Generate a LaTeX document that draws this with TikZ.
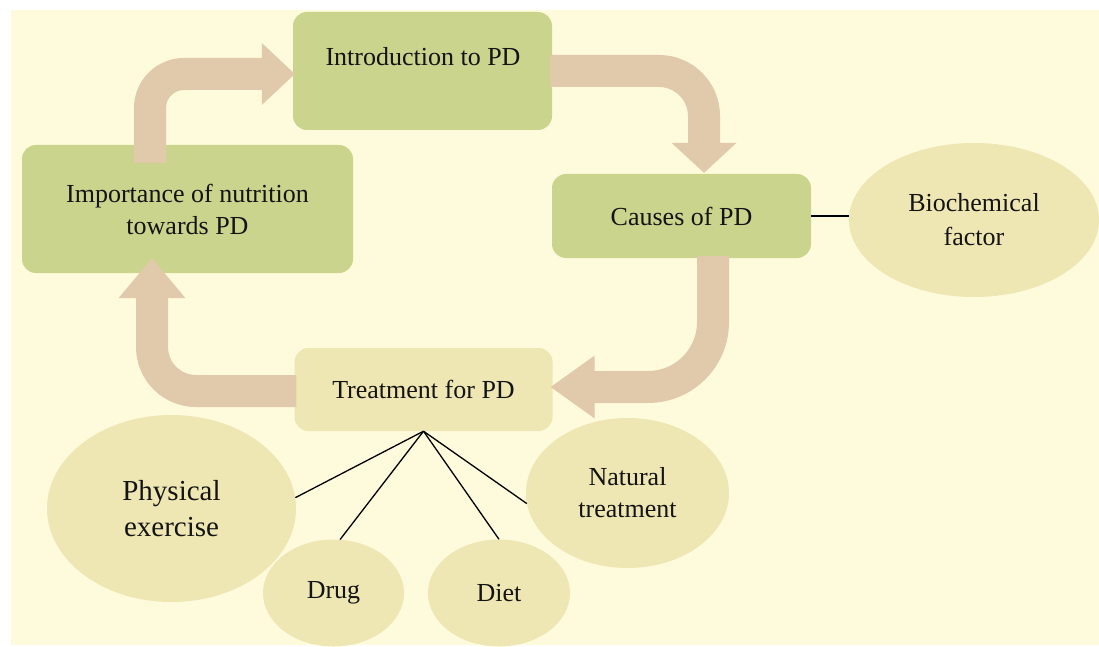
\documentclass[tikz,border=0pt]{standalone}
\usepackage{fontspec}
\setmainfont{Liberation Serif}
\usetikzlibrary{calc,shapes.geometric}
\definecolor{bgc}{HTML}{FEFADC}
\definecolor{boxg}{HTML}{CBD48D}
\definecolor{boxl}{HTML}{EFE7B3}
\definecolor{arrc}{HTML}{E1C9AB}
\definecolor{txtc}{HTML}{141414}
\begin{document}
\begin{tikzpicture}[x=1pt,y=-1pt,
  every node/.style={text=txtc},
  greenbox/.style={rectangle, rounded corners=14pt, fill=boxg, inner sep=0pt, align=center, font=\fontsize{26}{32}\selectfont},
  lightbox/.style={rectangle, rounded corners=14pt, fill=boxl, inner sep=0pt, align=center, font=\fontsize{26}{32}\selectfont},
  ell/.style={ellipse, fill=boxl, inner sep=0pt, align=center, font=\fontsize{26}{32}\selectfont},
  band/.style={draw=arrc, line width=32pt},
  thin/.style={draw=black, line width=1.3pt}]
\useasboundingbox (0,0) rectangle (1099,647);
\fill[bgc] (11,10) rectangle (1099,645);

% boxes
\node[greenbox, minimum width=259pt, minimum height=118pt] (intro) at (422.5,71) {};
\node[font=\fontsize{26}{32}\selectfont] (introtxt) at (423,57) {Introduction to PD};
\node[greenbox, minimum width=331pt, minimum height=128pt] (imp) at (187.5,209) {Importance of nutrition\\towards PD};
\node[greenbox, minimum width=259pt, minimum height=84pt] (cause) at (681.5,216) {Causes of PD};
\node[lightbox, minimum width=258pt, minimum height=83pt] (treat) at (423.5,389.5) {Treatment for PD};

% ellipses
\node[ell, minimum width=250pt, minimum height=154pt, font=\fontsize{26}{34}\selectfont] (bio) at (974,220) {Biochemical\\factor};
\node[ell, minimum width=249pt, minimum height=187pt, font=\fontsize{29}{36}\selectfont] (phys) at (171.5,508.5) {Physical\\exercise};
\node[ell, minimum width=141pt, minimum height=107pt] (drug) at (333.5,593) {Drug};
\node[ell, minimum width=142pt, minimum height=107pt] (diet) at (499,593) {Diet};
\node[ell, minimum width=203pt, minimum height=150pt] (nat) at (627.5,493) {Natural\\treatment};

% thin connectors
\draw[thin] (cause.east) -- (cause.east -| bio.west);
\draw[thin] (treat.south) -- (phys.5);
\draw[thin] (treat.south) -- (drug.83);
\draw[thin] (treat.south) -- (diet.north);
\draw[thin] (treat.south) -- (nat.186);

% block arrows
\coordinate (h1) at ($(intro.west)+(2,3)$);
\draw[band, rounded corners=34pt] ($(imp.north)+(-37.5,18)$) |- ($(h1)+(-32,0)$);
\fill[arrc] ($(h1)+(-33,-31)$) -- (h1) -- ($(h1)+(-33,31)$) -- cycle;

\coordinate (h2) at ($(cause.north)+(22.5,-1)$);
\draw[band, rounded corners=45pt] ($(intro.east)+(-2,0)$) -| ($(h2)+(0,-29)$);
\fill[arrc] ($(h2)+(-32.5,-30)$) -- (h2) -- ($(h2)+(32.5,-30)$) -- cycle;

\coordinate (h3) at ($(treat.east)+(-2,-2.5)$);
\draw[band, rounded corners=65pt] ($(cause.south)+(31.5,-2)$) |- ($(h3)+(43,0)$);
\fill[arrc] ($(h3)+(44,-31.5)$) -- (h3) -- ($(h3)+(44,31.5)$) -- cycle;

\coordinate (h4) at ($(imp.south)+(-35.5,-15)$);
\draw[band, rounded corners=44pt] ($(treat.west)+(2,1.5)$) -| ($(h4)+(0,39)$);
\fill[arrc] ($(h4)+(-33.5,40)$) -- (h4) -- ($(h4)+(33.5,40)$) -- cycle;
\end{tikzpicture}
\end{document}
